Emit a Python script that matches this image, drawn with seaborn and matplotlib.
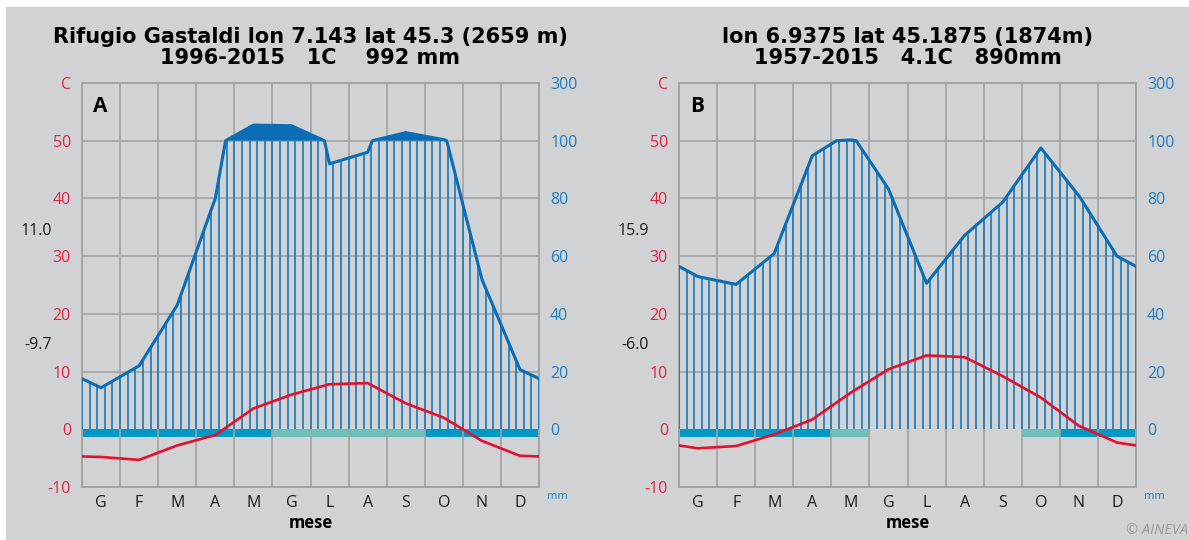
import numpy as np
import pandas as pd
import matplotlib
matplotlib.use('Agg')
import matplotlib.pyplot as plt
import seaborn as sns
from matplotlib.patches import Rectangle

# Monthly data
months = ['G', 'F', 'M', 'A', 'M', 'G', 'L', 'A', 'S', 'O', 'N', 'D']

temp_a = [-4.8, -5.3, -2.8, -1.0, 3.6, 6.0, 7.8, 8.0, 4.5, 2.0, -2.0, -4.6]
prec_a = [14.4, 22, 43, 80, 154, 152, 92, 96, 128, 104, 52, 20.7]
frost_a = [2, 2, 2, 2, 2, 1, 1, 1, 1, 2, 2, 2]   # 2 = sure frost, 1 = probable, 0 = none
title_a = 'Rifugio Gastaldi lon 7.143 lat 45.3 (2659 m)\n1996-2015   1C    992 mm'
extremes_a = ['11.0', '-9.7']

temp_b = [-3.3, -2.9, -0.9, 1.7, 6.3, 10.4, 12.8, 12.5, 9.2, 5.5, 0.6, -2.3]
prec_b = [52.9, 50.2, 60.9, 94.8, 103, 83.3, 50.6, 67.2, 78.7, 97.5, 81, 60]
frost_b = [2, 2, 2, 2, 1, 0, 0, 0, 0, 1, 2, 2]
title_b = 'lon 6.9375 lat 45.1875 (1874m)\n1957-2015   4.1C   890mm'
extremes_b = ['15.9', '-6.0']

left_ticks = [-10, 0, 10, 20, 30, 40, 50, 60]
left_labels = ['-10', '0', '10', '20', '30', '40', '50', 'C']
right_ticks = [0, 10, 20, 30, 40, 50, 60]
right_labels = ['0', '20', '40', '60', '80', '100', '300']

BG = '#d1d2d4'
GRID = '#a3a3a3'
BLUE = '#0b6db5'
HATCH = '#1479c0'
RED = '#e3102e'
RED_TXT = '#e52242'
BLUE_TXT = '#1f7fc2'
FROST = {2: '#0098c5', 1: '#6cc0b8'}

sns.set_style('white')
plt.rcParams['font.family'] = ['Open Sans', 'DejaVu Sans']


def compress(p):
    # Walter-Lieth scale: 2 mm per degree up to 100 mm, then 20 mm per degree
    p = np.asarray(p, dtype=float)
    return np.where(p <= 100, p / 2, 50 + (p - 100) / 20)


def with_edges(vals):
    # the curves run to the frame edges at the mean of December and January
    edge = (vals[0] + vals[-1]) / 2
    x = np.concatenate([[0], np.arange(12) + 0.5, [12]])
    y = np.concatenate([[edge], vals, [edge]])
    return x, y


def climate_panel(ax, temp, prec, frost, title, extremes, letter):
    ax.set_facecolor(BG)
    ax.set_xlim(0, 12)
    ax.set_ylim(-10, 60)

    # precipitation curve: linear in mm, drawn on the compressed scale
    xp, yp = with_edges(np.array(prec, dtype=float))
    xf = np.linspace(0, 12, 961)
    pf = np.interp(xf, xp, yp)
    cf = compress(pf)

    # vertical hatching from 0 up to the precipitation line
    xh = np.linspace(0, 12, 61)
    ch = np.minimum(compress(np.interp(xh, xp, yp)), 50)
    ax.vlines(xh, 0, ch, color=HATCH, lw=1.2, zorder=3)

    # solid area above 100 mm
    ax.fill_between(xf, 50, cf, where=cf > 50, color=BLUE, lw=0, zorder=3)

    df_p = pd.DataFrame({'x': xf, 'y': cf})
    sns.lineplot(data=df_p, x='x', y='y', ax=ax, color=BLUE, lw=2.2,
                 sort=False, estimator=None, zorder=4)

    # frost bars below the zero line
    for i, f in enumerate(frost):
        if f:
            ax.bar(i + 0.5, -1.4, width=1.0, bottom=0, color=FROST[f],
                   lw=0, zorder=2)

    # temperature curve
    xt, yt = with_edges(np.array(temp, dtype=float))
    df_t = pd.DataFrame({'x': xt, 'y': yt})
    sns.lineplot(data=df_t, x='x', y='y', ax=ax, color=RED, lw=1.9,
                 sort=False, estimator=None, zorder=5)

    # grid
    for v in range(1, 12):
        ax.axvline(v, color=GRID, lw=1.2, zorder=2.5)
    for h in range(10, 60, 10):
        ax.axhline(h, color=GRID, lw=1.2, zorder=1)
    for s in ax.spines.values():
        s.set_color(GRID)
        s.set_linewidth(1.4)

    ax.set_xticks(np.arange(12) + 0.5)
    ax.set_xticklabels(months, fontsize=11.5, color='#1a1a1a')
    ax.set_yticks(left_ticks)
    ax.set_yticklabels(left_labels, fontsize=11.5, color=RED_TXT)
    ax.tick_params(axis='y', length=0, pad=8)
    ax.tick_params(axis='x', length=0, pad=6)
    ax.set_xlabel('mese', fontsize=12, fontweight='bold', labelpad=2,
                  color='black')
    ax.set_ylabel('')

    ax2 = ax.twinx()
    ax2.set_ylim(-10, 60)
    ax2.set_yticks(right_ticks)
    ax2.set_yticklabels(right_labels, fontsize=11.5, color=BLUE_TXT)
    ax2.tick_params(axis='y', length=0, pad=8)
    for s in ax2.spines.values():
        s.set_visible(False)
    ax.text(1.018, -0.01, 'mm', transform=ax.transAxes, fontsize=8,
            color=BLUE_TXT, va='top', ha='left')

    ax.text(0.024, 0.967, letter, transform=ax.transAxes, fontsize=15,
            fontweight='bold', va='top', ha='left', zorder=6, color='black')
    ax.text(-0.066, 0.634, extremes[0], transform=ax.transAxes, fontsize=11.5,
            color='#1a1a1a', va='center', ha='right')
    ax.text(-0.066, 0.351, extremes[1], transform=ax.transAxes, fontsize=11.5,
            color='#1a1a1a', va='center', ha='right')
    ax.set_title(title, fontsize=15, fontweight='bold', linespacing=1.05,
                 pad=14, family=['DejaVu Sans'], color='black')


fig = plt.figure(figsize=(11.89, 5.40), dpi=100, facecolor='white')
fig.patches.append(Rectangle((6 / 1189, 0), 1, (540 - 7) / 540,
                             transform=fig.transFigure, color=BG, zorder=-10))

ax_a = fig.add_axes([82 / 1189, 53 / 540, 457 / 1189, 404 / 540])
ax_b = fig.add_axes([679 / 1189, 53 / 540, 457 / 1189, 404 / 540])

climate_panel(ax_a, temp_a, prec_a, frost_a, title_a, extremes_a, 'A')
climate_panel(ax_b, temp_b, prec_b, frost_b, title_b, extremes_b, 'B')

fig.text(1126 / 1189, 9 / 540, '© AINEVA', fontsize=10.5, color='#9a9a9a',
         style='italic', ha='left', va='center')

fig.savefig('out.png', dpi=100, facecolor='white')
